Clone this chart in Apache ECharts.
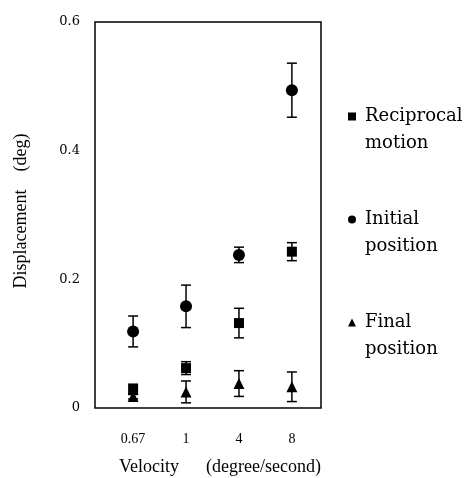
<!DOCTYPE html>
<html lang="en">
<head>
    <meta charset="utf-8">
    <title>Displacement vs Velocity</title>
    <script type="text/javascript" src="https://cdn.jsdelivr.net/npm/echarts@6/dist/echarts.min.js"></script>
    <style>
        html, body { margin: 0; padding: 0; background: #fff; }
    </style>
</head>
<body>
    <div id="main" style="width:466px;height:478px;"></div>

<script type="text/javascript">
    // categories on the x axis (drawn at positions 1..4)
    var categories = ['0.67', '1', '4', '8'];
    var yTicks = [0, 0.2, 0.4, 0.6];

    var reciprocalMean = [0.029, 0.062, 0.132, 0.243];
    var reciprocalErr  = [0.008, 0.010, 0.023, 0.014];
    var initialMean    = [0.119, 0.158, 0.238, 0.494];
    var initialErr     = [0.024, 0.033, 0.012, 0.042];
    var finalMean      = [0.018, 0.025, 0.038, 0.033];
    var finalErr       = [0.004, 0.017, 0.020, 0.023];

    var serifFont = 'DejaVu Serif';
    var timesFont = 'Liberation Serif';

    function points(means) {
        var out = [];
        for (var i = 0; i < means.length; i++) {
            out.push([i + 1, means[i]]);
        }
        return out;
    }

    function bars(means, errs) {
        var out = [];
        for (var i = 0; i < means.length; i++) {
            out.push([i + 1, means[i], means[i] - errs[i], means[i] + errs[i]]);
        }
        return out;
    }

    // vertical error bar with caps
    function renderErr(params, api) {
        var x = api.value(0);
        var top = api.coord([x, api.value(3)]);
        var bot = api.coord([x, api.value(2)]);
        var half = 5;
        var st = { stroke: '#000', lineWidth: 1.5 };
        return {
            type: 'group',
            children: [
                { type: 'line', shape: { x1: top[0], y1: top[1], x2: bot[0], y2: bot[1] }, style: st },
                { type: 'line', shape: { x1: top[0] - half, y1: top[1], x2: top[0] + half, y2: top[1] }, style: st },
                { type: 'line', shape: { x1: bot[0] - half, y1: bot[1], x2: bot[0] + half, y2: bot[1] }, style: st }
            ]
        };
    }

    function errSeries(means, errs) {
        return {
            type: 'custom',
            renderItem: renderErr,
            data: bars(means, errs),
            encode: { x: 0, y: [1, 2, 3] },
            silent: true,
            z: 1
        };
    }

    var markerStyle = { color: '#000', opacity: 1 };

    var myChart = echarts.init(document.getElementById('main'));

    var option = {
        animation: false,
        backgroundColor: '#fff',
        grid: {
            left: 95, top: 22, right: 145, bottom: 70,
            outerBoundsMode: 'none',
            containLabel: false,
            show: true,
            borderColor: '#000',
            borderWidth: 1.5
        },
        legend: {
            orient: 'vertical',
            left: 343,
            top: 71,
            itemWidth: 8,
            itemHeight: 8,
            itemGap: 22,
            selectedMode: false,
            formatter: function (name) {
                return '\n' + name;
            },
            itemStyle: { opacity: 1 },
            textStyle: {
                fontFamily: serifFont,
                fontSize: 18,
                lineHeight: 27,
                color: '#000',
                padding: [0, 0, 0, 4]
            },
            data: [
                { name: 'Reciprocal\nmotion', icon: 'rect' },
                { name: 'Initial\nposition', icon: 'circle' },
                { name: 'Final\nposition', icon: 'triangle' }
            ]
        },
        xAxis: {
            type: 'value',
            min: 0.28,
            max: 4.55,
            name: 'Velocity      (degree/second)',
            nameLocation: 'middle',
            nameGap: 50,
            nameTextStyle: {
                fontFamily: timesFont,
                fontSize: 18,
                color: '#000',
                padding: [0, 0, 0, 24]
            },
            axisLine: { show: false },
            axisTick: { show: false },
            splitLine: { show: false },
            axisLabel: {
                customValues: [1, 2, 3, 4],
                margin: 24,
                fontFamily: timesFont,
                fontSize: 14,
                color: '#000',
                formatter: function (v) {
                    return categories[Math.round(v) - 1];
                }
            }
        },
        yAxis: {
            type: 'value',
            min: 0,
            max: 0.6,
            interval: 0.2,
            name: 'Displacement    (deg)',
            nameLocation: 'middle',
            nameGap: 65,
            nameTextStyle: {
                fontFamily: timesFont,
                fontSize: 18,
                color: '#000',
                padding: [0, 0, 0, 8]
            },
            axisLine: { show: false },
            axisTick: { show: false },
            splitLine: { show: false },
            axisLabel: {
                margin: 15,
                fontFamily: serifFont,
                fontSize: 13,
                color: '#000',
                customValues: yTicks,
                formatter: function (v) {
                    return v === 0 ? '0' : v.toFixed(1);
                }
            }
        },
        series: [
            errSeries(reciprocalMean, reciprocalErr),
            errSeries(initialMean, initialErr),
            errSeries(finalMean, finalErr),
            {
                name: 'Reciprocal\nmotion',
                type: 'scatter',
                symbol: 'rect',
                symbolSize: 10,
                itemStyle: markerStyle,
                data: points(reciprocalMean),
                z: 3
            },
            {
                name: 'Initial\nposition',
                type: 'scatter',
                symbol: 'circle',
                symbolSize: 12,
                itemStyle: markerStyle,
                data: points(initialMean),
                z: 3
            },
            {
                name: 'Final\nposition',
                type: 'scatter',
                symbol: 'triangle',
                symbolSize: 11,
                itemStyle: markerStyle,
                data: points(finalMean),
                z: 3
            }
        ]
    };

    myChart.setOption(option);
</script>
</body>
</html>
